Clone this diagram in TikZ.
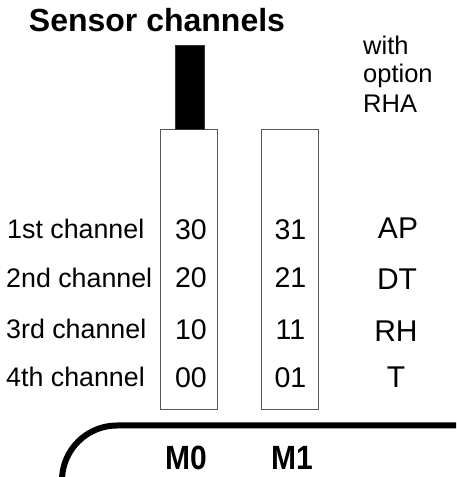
\documentclass[tikz,border=0pt]{standalone}
\usepackage{fontspec}
\setmainfont{Liberation Sans}
\begin{document}
\begin{tikzpicture}[x=1pt,y=1pt,
  chanbox/.style={draw=black!65,line width=1.1pt,fill=white},
  lbl/.style={inner sep=0pt,anchor=base west,font=\fontsize{26.8}{30}\selectfont},
  num/.style={inner sep=0pt,anchor=base,font=\fontsize{28.5}{32}\selectfont},
  sig/.style={inner sep=0pt,anchor=base,font=\fontsize{30}{34}\selectfont},
  opt/.style={inner sep=0pt,anchor=base west,font=\fontsize{25.5}{29}\selectfont},
  mod/.style={inner sep=0pt,anchor=base,font=\bfseries\fontsize{30}{34}\selectfont}]
\useasboundingbox (0,0) rectangle (456,477);
\clip (0,0) rectangle (456,477);
% title
\node[inner sep=0pt,anchor=base,font=\bfseries\fontsize{32}{36}\selectfont] (title) at (157,445) {Sensor channels};
% option text
\node[opt] (with) at (363,422) {with};
\node[opt] (option) at (363,394) {option};
\node[opt] (rha) at (363,364) {RHA};
% boxes
\node[chanbox,inner sep=0pt,minimum width=57.5pt,minimum height=280pt,anchor=south west] (m0box) at (159.5,67) {};
\node[chanbox,inner sep=0pt,minimum width=57.5pt,minimum height=280pt,anchor=south west] (m1box) at (260.5,67) {};
% black bar
\node[fill=black,draw=black!80,inner sep=0pt,minimum width=29pt,minimum height=84pt,anchor=south west] (bar) at (175,348) {};
% rows
\node[lbl] (c1) at (7,238) {1st channel};
\node[lbl] (c2) at (6,189) {2nd channel};
\node[lbl] (c3) at (6,138) {3rd channel};
\node[lbl] (c4) at (6,90) {4th channel};
\node[num] (n30) at (191,237) {30};
\node[num] (n20) at (191,189) {20};
\node[num] (n10) at (191,137) {10};
\node[num] (n00) at (191,89) {00};
\node[num] (n31) at (290.5,237) {31};
\node[num] (n21) at (290.5,189) {21};
\node[num] (n11) at (290.5,137) {11};
\node[num] (n01) at (290.5,89) {01};
\node[sig] (ap) at (398,238) {AP};
\node[sig] (dt) at (397,187) {DT};
\node[sig] (rh) at (396,135) {RH};
\node[sig] (t) at (396,89) {T};
% module labels
\node[mod] (m0) at (186,8) {\scalebox{1}[1.12]{M0}};
\node[mod] (m1) at (292,8) {\scalebox{1}[1.12]{M1}};
% base line
\coordinate (lineR) at (460,51.5);
\coordinate (lineK) at (117,51.5);
\draw[line width=6pt] (lineR) -- (lineK) arc[start angle=90,end angle=185,radius=55];
\end{tikzpicture}
\end{document}
